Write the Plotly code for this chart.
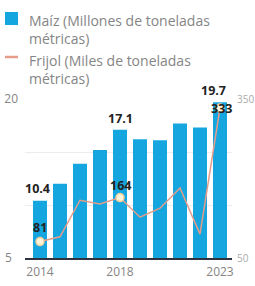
import plotly.graph_objects as go

years = [2014, 2015, 2016, 2017, 2018, 2019, 2020, 2021, 2022, 2023]
maiz = [10.4, 12.0, 13.9, 15.2, 17.1, 16.2, 16.1, 17.7, 17.3, 19.7]
frijol = [81, 90, 159, 152, 164, 127, 144, 182, 95, 333]
highlight_years = [2014, 2018, 2023]
maiz_name = "Maíz (Millones de toneladas<br>métricas)"
frijol_name = "Frijol (Miles de toneladas<br>métricas)"

BAR = "#16A6DF"
LINE = "#E59C88"
GREY = "#858585"
FONT = "Open Sans"

W, H = 255, 286
ML, MR, MT, MB = 25, 23, 99, 28
PW, PH = W - ML - MR, H - MT - MB


def px(xp):
    return (xp - ML) / PW


def py(yp):
    return (H - MB - yp) / PH


fig = go.Figure()
fig.add_trace(go.Bar(x=years, y=maiz, name=maiz_name, marker_color=BAR,
                     marker_line_width=0, yaxis="y", showlegend=False))
fig.add_trace(go.Scatter(x=years, y=frijol, name=frijol_name, mode="lines",
                         line=dict(color=LINE, width=1.5), yaxis="y2",
                         showlegend=False))
hx = [y for y in years if y in highlight_years]
hy = [frijol[years.index(y)] for y in hx]
fig.add_trace(go.Scatter(x=hx, y=hy, mode="markers", showlegend=False,
                         marker=dict(size=8, color="#FFF4DA",
                                     line=dict(color="#F3CF9B", width=1.5)),
                         yaxis="y2"))

LBL = dict(size=12.5, color="#222", family=FONT)
# offsets (pixels) of the value labels
maiz_shift = {2014: (-3, 2, "bottom"), 2018: (0, 1, "bottom"), 2023: (-7, 12, "middle")}
frijol_shift = {2014: (0, 14, "middle"), 2018: (0, 12, "middle"), 2023: (1, 0, "middle")}

ann = []
for y in highlight_years:
    i = years.index(y)
    dx, dy, anc = maiz_shift[y]
    ann.append(dict(x=y, y=maiz[i], xref="x", yref="y", text=f"<b>{maiz[i]}</b>",
                    showarrow=False, yanchor=anc, xshift=dx, yshift=dy, font=LBL))
    dx, dy, anc = frijol_shift[y]
    ann.append(dict(x=y, y=frijol[i], xref="x", yref="y2", text=f"<b>{frijol[i]}</b>",
                    showarrow=False, yanchor=anc, xshift=dx, yshift=dy, font=LBL))

# manual legend
LEG = dict(size=14, color=GREY, family=FONT)
for name, ytop in ((maiz_name, 9), (frijol_name, 49)):
    ann.append(dict(x=px(27), y=py(ytop), xref="paper", yref="paper",
                    text=name, showarrow=False, xanchor="left", align="left",
                    yanchor="top", font=LEG))
shapes = [
    dict(type="rect", xref="paper", yref="paper", x0=px(5), x1=px(18),
         y0=py(25), y1=py(12), fillcolor=BAR, line_width=0),
    dict(type="line", xref="paper", yref="paper", x0=px(5), x1=px(18),
         y0=py(57), y1=py(57), line=dict(color=LINE, width=2.5)),
]

fig.update_layout(
    width=W, height=H,
    margin=dict(l=ML, r=MR, t=MT, b=MB, autoexpand=False),
    paper_bgcolor="white", plot_bgcolor="white",
    font=dict(family=FONT, size=12, color=GREY),
    bargap=0.3,
    showlegend=False,
    xaxis=dict(range=[2013.25, 2023.6], tickvals=highlight_years,
               ticktext=[str(v) for v in highlight_years],
               showgrid=False, showline=True, linecolor="#2d3440", linewidth=2,
               ticks="", ticklabelstandoff=2, tickfont=dict(size=12, color=GREY)),
    yaxis=dict(range=[5, 20], tickvals=[5, 10, 15, 20],
               ticktext=["5&nbsp;&nbsp;", "", "", "20"],
               showgrid=True, gridcolor="#ececec", gridwidth=1, zeroline=False,
               ticks="", ticklabelstandoff=6, tickfont=dict(size=12, color=GREY)),
    yaxis2=dict(range=[50, 350], tickvals=[50, 350], overlaying="y", side="right",
                showgrid=False, zeroline=False, ticks="", ticklabelstandoff=4,
                tickfont=dict(size=10, color="#aaaaaa")),
    annotations=ann,
    shapes=shapes,
)

fig.write_html("out.html", config={"displayModeBar": False},
               post_script="document.body.style.margin='0';")
